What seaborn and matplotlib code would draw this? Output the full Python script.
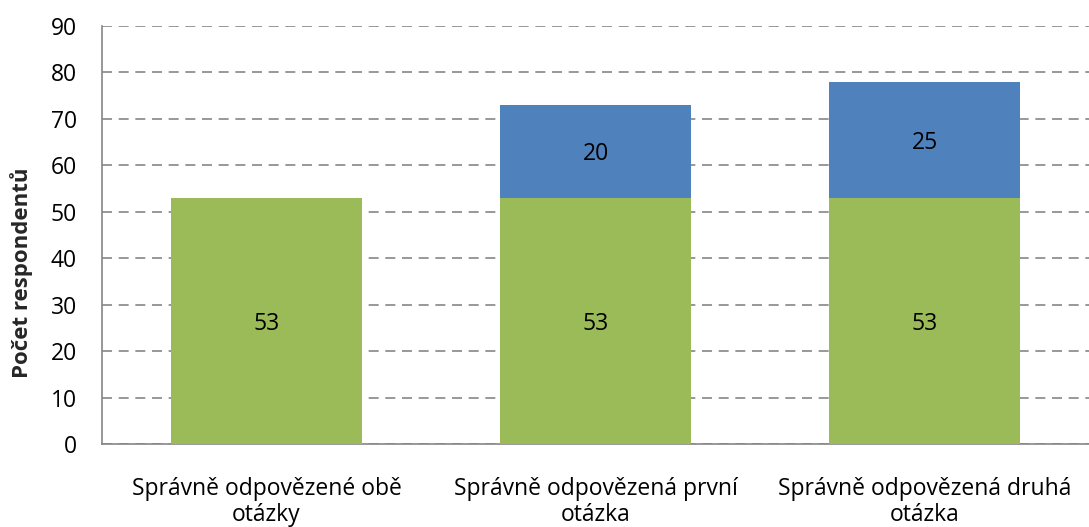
import matplotlib
matplotlib.use('Agg')
import matplotlib.pyplot as plt
import seaborn as sns
import pandas as pd

# data
categories = ['Správně odpovězené obě\notázky',
              'Správně odpovězená první\notázka',
              'Správně odpovězená druhá\notázka']
both_correct = [53, 53, 53]
extra_correct = [0, 20, 25]
y_ticks = [0, 10, 20, 30, 40, 50, 60, 70, 80, 90]

GREEN = '#9BBB59'
BLUE = '#4F81BD'
GRID = '#868686'
FS = 16.5

sns.set_theme(style='white')
plt.rcParams['font.family'] = ['Open Sans', 'DejaVu Sans']

df = pd.DataFrame({
    'kategorie': categories,
    'obe': both_correct,
    'navic': extra_correct,
})
df['celkem'] = df['obe'] + df['navic']

fig = plt.figure(figsize=(10.89, 5.27), dpi=100)
ax = fig.add_axes([0.0937, 0.1575, 0.9063, 0.7932])

# stacked look: total in blue first, green base drawn over it
sns.barplot(data=df, x='kategorie', y='celkem', color=BLUE, width=0.58,
            saturation=1, linewidth=0, ax=ax, zorder=3)
sns.barplot(data=df, x='kategorie', y='obe', color=GREEN, width=0.58,
            saturation=1, linewidth=0, ax=ax, zorder=3)

# labels
for i, (g, b) in enumerate(zip(both_correct, extra_correct)):
    ax.text(i, g / 2, str(g), ha='center', va='center_baseline',
            fontsize=FS, color='black', zorder=4)
    if b > 0:
        ax.text(i, g + b / 2, str(b), ha='center', va='center_baseline',
                fontsize=FS, color='black', zorder=4)

ax.set_ylim(0, 90)
ax.set_yticks(y_ticks)
ax.set_xlim(-0.5, 2.5)
ax.yaxis.grid(True, color=GRID, linestyle=(0, (6, 4)), linewidth=1.2, zorder=0)
ax.set_axisbelow(True)

ax.set_xlabel('')
ax.set_ylabel('Počet respondentů', fontsize=FS - 0.5, fontweight='bold')
ax.yaxis.set_label_coords(-0.070, 0.41)
ax.tick_params(axis='both', length=0, labelsize=FS, colors='black')
ax.tick_params(axis='x', pad=24)
ax.tick_params(axis='y', pad=18)
for lbl in ax.get_xticklabels():
    lbl.set_linespacing(1.08)

for side in ['top', 'right']:
    ax.spines[side].set_visible(False)
for side in ['left', 'bottom']:
    ax.spines[side].set_color(GRID)
    ax.spines[side].set_linewidth(1.2)

fig.savefig('out.png', dpi=100)
